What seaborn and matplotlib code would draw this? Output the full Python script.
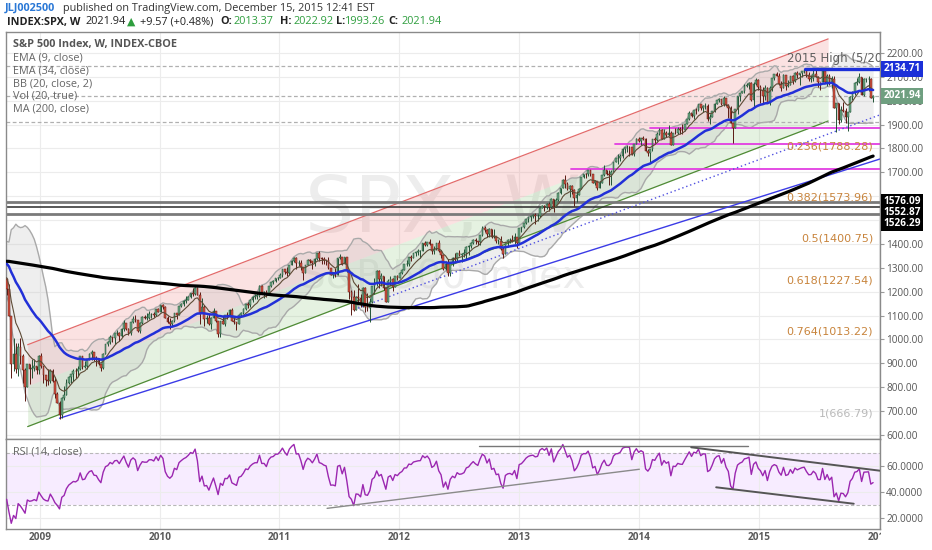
import numpy as np
import pandas as pd
import matplotlib
matplotlib.use("Agg")
import matplotlib.pyplot as plt
import matplotlib.dates as mdates
import matplotlib.transforms as mtrans
from matplotlib.ticker import FixedLocator, FuncFormatter
from matplotlib.patches import Rectangle
import seaborn as sns

# ---------------- DATA ----------------
# weekly closes before the visible window (indicator warm-up, Nov 2004 - Sep 2008)
pre_closes = [
    1170, 1182, 1191, 1189, 1194, 1210, 1212,
    1186, 1184, 1168, 1171, 1204, 1206, 1201, 1212, 1222, 1201, 1190, 1172, 1172, 1182, 1143, 1153, 1157,
    1172, 1154, 1190, 1198, 1197, 1201, 1217, 1191, 1211, 1212, 1228, 1229, 1234, 1227, 1231, 1220, 1205,
    1235, 1241, 1237, 1215, 1229, 1196, 1187, 1179, 1199, 1220, 1235, 1248, 1268, 1265, 1260, 1267, 1268, 1248,
    1285, 1287, 1261, 1284, 1264, 1266, 1289, 1289, 1287, 1282, 1307, 1302, 1295, 1295, 1289, 1312, 1311,
    1326, 1292, 1267, 1280, 1288, 1253, 1252, 1245, 1270, 1266, 1237, 1240, 1279, 1279, 1266, 1302, 1296,
    1311, 1299, 1320, 1314, 1336, 1350, 1366, 1368, 1377, 1364, 1380, 1401, 1401, 1397, 1409, 1427, 1410, 1418,
    1409, 1431, 1431, 1423, 1449, 1438, 1455, 1451, 1388, 1402, 1386, 1437, 1421, 1443, 1452, 1484, 1494,
    1505, 1505, 1522, 1515, 1536, 1507, 1533, 1502, 1503, 1530, 1552, 1534, 1458, 1433, 1453, 1445, 1479,
    1474, 1453, 1484, 1525, 1527, 1557, 1561, 1501, 1535, 1509, 1453, 1458, 1440, 1481, 1504, 1468, 1484, 1478,
    1411, 1401, 1325, 1330, 1395, 1331, 1349, 1353, 1331, 1294, 1288, 1330, 1316, 1370, 1332, 1390, 1398,
    1414, 1388, 1426, 1375, 1400, 1361, 1360, 1318, 1278, 1262, 1240, 1261, 1257, 1260, 1297, 1298, 1292,
    1283, 1242, 1252, 1255,
]

# visible weekly bars (close, high, low), week starting 2008-09-22
w2008 = [(1213.27, 1256, 1188), (1099.23, 1234, 1097), (899.22, 1099, 839), (940.55, 1006, 866),
         (876.77, 985, 858), (968.75, 984, 845), (930.99, 1007, 899), (873.29, 939, 818),
         (800.03, 882, 741), (896.24, 897, 799), (876.07, 897, 815), (879.73, 918, 837),
         (887.88, 918, 869), (872.80, 888, 857)]
w2009 = [(931.80, 934, 857), (890.35, 943, 881), (850.12, 870, 817), (831.95, 852, 804), (825.88, 877, 811),
         (868.60, 875, 817), (826.84, 877, 821), (770.05, 841, 754), (735.09, 780, 734), (683.38, 741, 667),
         (756.55, 759, 672), (768.54, 804, 747), (815.94, 833, 768), (842.50, 845, 814), (856.56, 857, 816),
         (869.60, 875, 827), (866.23, 879, 839), (877.52, 888, 847), (929.23, 930, 870), (882.88, 924, 878),
         (887.00, 909, 879), (919.14, 920, 878), (940.09, 945, 914), (946.21, 956, 916), (921.23, 946, 911),
         (918.90, 931, 889), (896.42, 923, 891), (879.13, 893, 869), (940.38, 942, 876), (979.26, 982, 940),
         (987.48, 993, 974), (1010.48, 1018, 980), (1004.09, 1012, 988), (1026.13, 1028, 980), (1028.93, 1039, 1018),
         (1016.40, 1033, 992), (1042.73, 1049, 1010), (1068.30, 1080, 1037), (1044.38, 1071, 1041), (1025.21, 1050, 1020),
         (1071.49, 1072, 1019), (1087.68, 1097, 1067), (1079.60, 1101, 1074), (1036.19, 1083, 1030), (1069.30, 1072, 1029),
         (1093.48, 1097, 1064), (1091.38, 1102, 1084), (1091.49, 1111, 1083), (1105.98, 1119, 1087), (1106.41, 1110, 1091),
         (1102.47, 1117, 1095), (1126.48, 1127, 1099), (1115.10, 1130, 1114)]
w2010 = [(1144.98, 1145, 1114), (1136.03, 1150, 1127), (1091.76, 1140, 1090), (1073.87, 1097, 1071), (1066.19, 1090, 1045),
         (1075.51, 1081, 1057), (1109.17, 1110, 1074), (1104.49, 1112, 1087), (1138.70, 1139, 1104), (1149.99, 1151, 1138),
         (1159.90, 1167, 1142), (1166.59, 1181, 1154), (1178.10, 1181, 1165), (1194.37, 1195, 1175), (1192.13, 1214, 1180),
         (1217.28, 1218, 1186), (1186.69, 1220, 1185), (1110.88, 1200, 1065), (1135.68, 1174, 1111), (1087.69, 1143, 1056),
         (1089.41, 1104, 1070), (1064.88, 1106, 1060), (1091.60, 1093, 1043), (1117.51, 1131, 1091), (1076.76, 1120, 1075),
         (1022.58, 1079, 1011), (1077.96, 1078, 1010), (1064.88, 1100, 1063), (1102.66, 1103, 1056), (1101.60, 1113, 1085),
         (1121.64, 1129, 1100), (1079.25, 1130, 1079), (1071.69, 1094, 1065), (1064.59, 1071, 1039), (1104.51, 1106, 1065),
         (1109.55, 1114, 1092), (1125.59, 1131, 1105), (1148.67, 1149, 1122), (1146.24, 1158, 1131), (1165.15, 1168, 1134),
         (1176.19, 1181, 1155), (1183.08, 1189, 1171), (1183.26, 1196, 1171), (1225.85, 1227, 1177), (1199.21, 1227, 1194),
         (1199.73, 1205, 1173), (1189.40, 1207, 1176), (1224.71, 1225, 1186), (1240.40, 1241, 1219), (1243.91, 1247, 1232),
         (1256.77, 1259, 1240), (1257.64, 1262, 1251)]
w2011 = [(1271.50, 1278, 1257), (1293.24, 1296, 1262), (1283.35, 1296, 1276), (1276.34, 1302, 1265), (1310.87, 1311, 1270),
         (1329.15, 1331, 1311), (1343.01, 1344, 1326), (1319.88, 1344, 1295), (1321.15, 1333, 1306), (1304.28, 1331, 1291),
         (1279.20, 1304, 1249), (1313.80, 1314, 1279), (1332.41, 1337, 1313), (1328.17, 1339, 1322), (1319.68, 1330, 1294),
         (1337.38, 1341, 1309), (1363.61, 1364, 1334), (1340.20, 1371, 1330), (1337.77, 1346, 1318), (1333.27, 1346, 1317),
         (1331.10, 1334, 1312), (1300.16, 1345, 1297), (1270.98, 1301, 1268), (1271.50, 1280, 1259), (1268.45, 1299, 1262),
         (1339.67, 1341, 1268), (1343.80, 1356, 1335), (1316.14, 1345, 1313), (1345.02, 1347, 1319), (1292.28, 1347, 1283),
         (1199.38, 1292, 1168), (1178.81, 1209, 1101), (1123.53, 1208, 1121), (1176.80, 1182, 1122), (1173.97, 1231, 1158),
         (1154.23, 1189, 1136), (1216.01, 1220, 1137), (1136.43, 1220, 1114), (1131.42, 1195, 1121), (1155.46, 1172, 1074),
         (1224.58, 1225, 1151), (1238.25, 1256, 1191), (1285.09, 1293, 1226), (1253.23, 1292, 1215), (1263.85, 1277, 1226),
         (1215.65, 1266, 1209), (1158.67, 1220, 1158), (1244.28, 1255, 1159), (1255.19, 1267, 1226), (1219.66, 1258, 1203),
         (1265.33, 1266, 1220), (1257.60, 1270, 1248)]
w2012 = [(1277.81, 1284, 1258), (1289.09, 1297, 1275), (1315.38, 1316, 1291), (1316.33, 1333, 1306), (1344.90, 1345, 1309),
         (1342.64, 1354, 1330), (1361.23, 1364, 1340), (1365.74, 1368, 1351), (1369.63, 1378, 1352), (1370.87, 1375, 1340),
         (1404.17, 1405, 1371), (1397.11, 1414, 1392), (1408.47, 1409, 1391), (1398.08, 1422, 1397), (1370.26, 1398, 1357),
         (1378.53, 1391, 1358), (1403.36, 1406, 1375), (1369.10, 1415, 1367), (1353.39, 1375, 1343), (1295.22, 1355, 1292),
         (1317.82, 1328, 1292), (1278.04, 1335, 1267), (1325.66, 1326, 1266), (1342.84, 1344, 1307), (1335.02, 1363, 1325),
         (1362.16, 1363, 1325), (1354.68, 1375, 1350), (1356.78, 1361, 1326), (1362.66, 1380, 1345), (1385.97, 1390, 1338),
         (1390.99, 1394, 1354), (1405.87, 1407, 1385), (1418.16, 1419, 1398), (1411.13, 1427, 1398), (1406.58, 1414, 1397),
         (1437.92, 1439, 1397), (1465.77, 1475, 1433), (1460.15, 1475, 1452), (1440.67, 1463, 1431), (1460.93, 1465, 1430),
         (1428.59, 1464, 1425), (1433.19, 1464, 1425), (1411.94, 1433, 1403), (1414.20, 1420, 1399), (1379.85, 1434, 1373),
         (1359.88, 1388, 1343), (1409.15, 1410, 1359), (1416.18, 1420, 1386), (1418.07, 1423, 1404), (1413.58, 1439, 1408),
         (1430.15, 1448, 1398), (1402.43, 1431, 1385)]
w2013 = [(1466.47, 1467, 1402), (1472.05, 1473, 1451), (1485.98, 1486, 1465), (1502.96, 1503, 1485), (1513.17, 1514, 1491),
         (1517.93, 1519, 1498), (1519.79, 1525, 1508), (1515.60, 1530, 1485), (1518.20, 1526, 1497), (1551.18, 1552, 1512),
         (1560.70, 1564, 1550), (1556.89, 1564, 1539), (1569.19, 1570, 1546), (1553.28, 1574, 1539), (1588.85, 1594, 1549),
         (1555.25, 1589, 1536), (1582.24, 1593, 1555), (1614.42, 1618, 1581), (1633.70, 1635, 1611), (1667.47, 1674, 1634),
         (1649.60, 1687, 1635), (1630.74, 1658, 1626), (1643.38, 1649, 1598), (1626.73, 1649, 1608), (1592.43, 1631, 1561),
         (1606.28, 1621, 1577), (1631.89, 1633, 1604), (1680.19, 1682, 1629), (1692.09, 1694, 1675), (1691.65, 1698, 1678),
         (1709.67, 1711, 1683), (1691.42, 1710, 1683), (1655.83, 1691, 1654), (1663.50, 1670, 1646), (1632.97, 1665, 1627),
         (1655.17, 1664, 1634), (1687.99, 1689, 1656), (1709.91, 1730, 1685), (1691.75, 1711, 1687), (1690.50, 1710, 1647),
         (1703.20, 1711, 1646), (1744.50, 1745, 1701), (1759.77, 1760, 1742), (1761.64, 1775, 1735), (1770.61, 1775, 1746),
         (1798.18, 1802, 1762), (1804.76, 1807, 1783), (1805.81, 1813, 1786), (1805.09, 1811, 1770), (1775.32, 1808, 1772),
         (1818.32, 1819, 1768), (1841.40, 1845, 1817)]
w2014 = [(1831.37, 1849, 1828), (1842.37, 1843, 1815), (1838.70, 1851, 1834), (1790.29, 1843, 1790), (1782.59, 1799, 1770),
         (1797.02, 1798, 1738), (1838.63, 1840, 1791), (1836.25, 1847, 1824), (1859.45, 1867, 1832), (1878.04, 1884, 1856),
         (1841.13, 1883, 1839), (1866.52, 1883, 1839), (1857.62, 1875, 1850), (1865.09, 1897, 1853), (1815.69, 1873, 1814),
         (1864.85, 1865, 1814), (1863.40, 1884, 1860), (1881.14, 1891, 1860), (1878.48, 1888, 1860), (1877.86, 1902, 1862),
         (1900.53, 1901, 1873), (1923.57, 1924, 1901), (1949.44, 1955, 1919), (1936.16, 1950, 1931), (1962.87, 1963, 1925),
         (1960.96, 1968, 1944), (1985.44, 1986, 1958), (1967.57, 1983, 1960), (1978.22, 1984, 1952), (1978.34, 1991, 1965),
         (1925.15, 1985, 1916), (1931.59, 1944, 1904), (1955.06, 1956, 1930), (1988.40, 1989, 1954), (2003.37, 2005, 1989),
         (2007.71, 2011, 1993), (1985.54, 2009, 1983), (2010.40, 2019, 1978), (1982.85, 2007, 1979), (1967.90, 1986, 1926),
         (1906.13, 1977, 1905), (1886.76, 1906, 1821), (1964.58, 1965, 1886), (2018.05, 2019, 1943), (2031.92, 2034, 2001),
         (2039.82, 2042, 2031), (2063.50, 2071, 2034), (2067.56, 2076, 2058), (2075.37, 2079, 2050), (2002.33, 2078, 2001),
         (2070.65, 2077, 1973), (2088.77, 2094, 2066)]
w2015 = [(2058.20, 2093, 2046), (2044.81, 2064, 1992), (2019.42, 2057, 1988), (2051.82, 2065, 2005), (1994.99, 2057, 1990),
         (2055.47, 2062, 1981), (2096.99, 2097, 2041), (2110.30, 2111, 2085), (2104.50, 2119, 2103), (2071.26, 2117, 2067),
         (2053.40, 2083, 2039), (2108.10, 2114, 2054), (2061.02, 2105, 2045), (2066.96, 2089, 2058), (2102.06, 2103, 2068),
         (2081.18, 2107, 2072), (2117.69, 2120, 2079), (2108.29, 2126, 2097), (2116.10, 2117, 2068), (2122.73, 2123, 2100),
         (2126.06, 2134.7, 2117), (2107.39, 2126, 2100), (2092.83, 2121, 2081), (2094.11, 2109, 2077), (2109.99, 2127, 2084),
         (2101.49, 2129, 2100), (2076.78, 2103, 2056), (2076.62, 2078, 2044), (2126.64, 2132, 2077), (2079.65, 2129, 2076),
         (2103.84, 2114, 2063), (2077.57, 2113, 2067), (2091.54, 2104, 2052), (1970.89, 2102, 1970), (1988.87, 1990, 1867),
         (1921.22, 1987, 1903), (1961.05, 1976, 1910), (1958.03, 1996, 1954), (1931.34, 1970, 1908), (1951.36, 1952, 1872),
         (2014.89, 2020, 1953), (2033.11, 2039, 2004), (2075.15, 2080, 2022), (2079.36, 2094, 2067), (2099.20, 2116, 2076),
         (2023.04, 2094, 2022), (2089.17, 2097, 2020), (2090.11, 2094, 2078), (2091.69, 2104, 2042), (2012.37, 2094, 2011),
         (2021.94, 2022.92, 1993.26)]

first_week = "2008-09-22"
fib_levels = [1788.28, 1573.96, 1400.75, 1227.54, 1013.22, 666.79]
fib_labels = ["0.236(1788.28)", "0.382(1573.96)", "0.5(1400.75)", "0.618(1227.54)", "0.764(1013.22)", "1(666.79)"]
black_levels = [1576.09, 1552.87, 1526.29]
magenta_levels = [1887, 1818, 1714]
magenta_starts = ["2014-02-01", "2013-10-20", "2013-06-07"]
dashed_levels = [2147, 2021.94, 1912]
high_2015 = 2134.71
last_price = 2021.94
year_ticks = ["2009", "2010", "2011", "2012", "2013", "2014", "2015", "2016"]
price_ticks = list(range(600, 2201, 100))
hidden_price_labels = [1500, 1600]   # covered by the price tags in the reference
rsi_ticks = [20, 40, 60]

# drawn trend lines (start date, start value, end date, end value)
channel_dates = ["2008-11-25", "2015-07-30"]
channel_upper = [978, 2259]
channel_lower = [635, 1915]
blue_line = ("2009-03-02", 670, "2016-01-04", 1756)
dotted_line = ("2011-08-16", 1125, "2016-01-04", 1941)
rsi_lines = [("2011-05-26", 27.6, "2014-01-01", 57.3, "#8a8a8a", 1.0),
             ("2012-08-31", 75.0, "2014-11-27", 75.0, "#777777", 1.0),
             ("2014-06-08", 74.0, "2016-01-04", 56.2, "#555555", 1.4),
             ("2014-08-23", 43.6, "2015-10-16", 31.1, "#555555", 1.4)]

# ---------------- PREP ----------------
weeks = w2008 + w2009 + w2010 + w2011 + w2012 + w2013 + w2014 + w2015
n = len(weeks)
closes = np.array([w[0] for w in weeks], float)
full = pd.Series(np.concatenate([np.array(pre_closes, float), closes]))
opens = full.shift(1).values[-n:]
highs = np.maximum.reduce([np.array([w[1] for w in weeks], float), opens, closes])
lows = np.minimum.reduce([np.array([w[2] for w in weeks], float), opens, closes])
dates = pd.date_range(first_week, periods=n, freq="7D")

ema9 = full.ewm(span=9, adjust=False).mean().values[-n:]
ema34 = full.ewm(span=34, adjust=False).mean().values[-n:]
sma20 = full.rolling(20).mean()
sd20 = full.rolling(20).std(ddof=0)
bbu = (sma20 + 2 * sd20).values[-n:]
bbl = (sma20 - 2 * sd20).values[-n:]
ma200 = full.rolling(200, min_periods=150).mean().values[-n:]
diff = full.diff()
ag = diff.clip(lower=0).ewm(alpha=1 / 14, adjust=False).mean()
al = (-diff.clip(upper=0)).ewm(alpha=1 / 14, adjust=False).mean()
rsi = (100 - 100 / (1 + ag / al)).values[-n:]

# ---------------- FIGURE ----------------
sns.set_style("white")
plt.rcParams["font.family"] = ["Open Sans", "DejaVu Sans"]
W, H = 932, 550
fig = plt.figure(figsize=(W / 100, H / 100), dpi=100)
fig.patch.set_facecolor("white")


def fx(px):
    return px / W


def fy(py):
    return 1 - py / H


L, R, T, MID, B = 6, 880, 32, 439, 529
ax = fig.add_axes([fx(L), fy(MID), fx(R - L), (MID - T) / H])
axr = fig.add_axes([fx(L), fy(B), fx(R - L), (B - MID) / H], sharex=ax)

x0, x1 = pd.Timestamp("2008-09-20"), pd.Timestamp("2016-01-04")
ax.set_xlim(x0, x1)
ax.set_ylim(583, 2288)
axr.set_ylim(11.9, 80.3)

grid_c = "#ececec"
for a in (ax, axr):
    a.set_facecolor("white")
    for s in a.spines.values():
        s.set_color("#8a8a8a")
        s.set_linewidth(1.0)
    a.xaxis.set_major_locator(FixedLocator(mdates.date2num(pd.to_datetime([y + "-01-01" for y in year_ticks]))))
    a.yaxis.tick_right()
    a.tick_params(axis="y", which="both", length=3, width=0.8, color="#9a9a9a", labelsize=7.2,
                  labelcolor="#555555", pad=1.5)
    a.tick_params(axis="x", length=0)
    a.grid(True, color=grid_c, linewidth=0.8, zorder=0)
    a.set_axisbelow(True)

ax.yaxis.set_major_locator(FixedLocator(price_ticks))
ax.yaxis.set_major_formatter(FuncFormatter(lambda v, p: "" if round(v) in hidden_price_labels else f"{v:.2f}"))
ax.tick_params(axis="x", labelbottom=False)
axr.yaxis.set_major_locator(FixedLocator(rsi_ticks))
axr.yaxis.set_major_formatter(FuncFormatter(lambda v, p: f"{v:.4f}"))
axr.tick_params(axis="x", labelbottom=False)

# year labels under RSI
yt = mtrans.blended_transform_factory(axr.transData, fig.transFigure)
for y in year_ticks:
    axr.text(pd.Timestamp(y + "-01-01"), fy(537), y, transform=yt, ha="center", va="center",
             fontsize=7.2, fontweight="bold", color="#5a5a5a", clip_on=False)
fig.patches.append(Rectangle((fx(881), fy(546)), fx(W - 881), 14 / H, transform=fig.transFigure,
                             facecolor="white", edgecolor="none", zorder=20))

# watermark
ax.text(0.5, (MID - 210) / (MID - T), "SPX, W", transform=ax.transAxes, ha="center", va="center",
        fontsize=56, color="black", alpha=0.07, family="DejaVu Sans", zorder=0.5)
ax.text(0.5, (MID - 277) / (MID - T), "S&P 500 Index", transform=ax.transAxes, ha="center", va="center",
        fontsize=28, color="black", alpha=0.07, family="DejaVu Sans", zorder=0.5)

# regression channel
cd = pd.to_datetime(channel_dates)
cmid = [(a + b) / 2 for a, b in zip(channel_upper, channel_lower)]
ax.fill_between(cd, cmid, channel_upper, color="#ee7b7b", alpha=0.22, lw=0, zorder=1)
ax.fill_between(cd, channel_lower, cmid, color="#8cc47a", alpha=0.22, lw=0, zorder=1)
ax.plot(cd, channel_upper, color="#e36b6b", lw=0.9, zorder=2)
ax.plot(cd, channel_lower, color="#4f8a35", lw=0.9, zorder=2)

# Bollinger bands
ax.fill_between(dates, bbl, bbu, color="#bdbdbd", alpha=0.25, lw=0, zorder=1.5)
sns.lineplot(x=dates, y=bbu, ax=ax, color="#a9a9a9", linewidth=1.0, zorder=1.6, legend=False)
sns.lineplot(x=dates, y=bbl, ax=ax, color="#a9a9a9", linewidth=1.0, zorder=1.6, legend=False)

# horizontal levels
for lv in dashed_levels:
    ax.axhline(lv, color="#b0b0b0", lw=0.9, ls=(0, (3, 2)), zorder=2)
for lv, c, w in zip(black_levels, ["#7a7a7a", "#2a2a2a", "#7a7a7a"], [2.0, 1.1, 2.0]):
    ax.axhline(lv, color=c, lw=w, zorder=2.2)
for lv, st in zip(magenta_levels, magenta_starts):
    ax.plot([pd.Timestamp(st), x1], [lv, lv], color="#e23ee2", lw=1.3, zorder=2.3)
ax.plot([pd.Timestamp("2015-05-20"), x1], [high_2015, high_2015], color="#1b2fd8", lw=2.4, zorder=5)

# trend lines
ax.plot(pd.to_datetime([blue_line[0], blue_line[2]]), [blue_line[1], blue_line[3]], color="#3b3be6", lw=1.0, zorder=2.5)
ax.plot(pd.to_datetime([dotted_line[0], dotted_line[2]]), [dotted_line[1], dotted_line[3]], color="#5050e0",
        lw=1.0, ls=(0, (1, 2)), zorder=2.5)

# candles
up = closes >= opens
body_lo = np.minimum(opens, closes)
body_h = np.maximum(np.abs(closes - opens), 1.5)
for mask, fc, ec in [(up, "#6ba583", "#225437"), (~up, "#d75442", "#5b1a13")]:
    ax.vlines(dates[mask], lows[mask], highs[mask], color=ec, lw=0.7, zorder=3)
    ax.bar(dates[mask], body_h[mask], bottom=body_lo[mask], width=5.2, color=fc, edgecolor=ec,
           linewidth=0.35, zorder=3.1)

# moving averages
sns.lineplot(x=dates, y=ema9, ax=ax, color="#5d4b36", linewidth=0.8, zorder=4, legend=False)
sns.lineplot(x=dates, y=ema34, ax=ax, color="#2230d8", linewidth=1.8, zorder=4.1, legend=False)
sns.lineplot(x=dates, y=ma200, ax=ax, color="#000000", linewidth=2.3, zorder=4.2, legend=False)

# fib labels
bt = mtrans.blended_transform_factory(ax.transAxes, ax.transData)
for lv, lab in zip(fib_levels, fib_labels):
    col = "#b9b9b9" if lab.startswith("1(") else "#c8843c"
    ax.text((873 - L) / (R - L), lv, lab, transform=bt, ha="right", va="bottom", fontsize=8,
            color=col, family="DejaVu Sans", zorder=6)

ax.text((787 - L) / (R - L), 2148, "2015 High (5/20/15)", transform=bt, ha="left", va="bottom",
        fontsize=8.5, color="#5f5f5f", family="DejaVu Sans", zorder=6, clip_on=True)


# price tags on the axis
def tag(a, y, txt, fc, tc="white"):
    a.text(1.004, y, txt, transform=mtrans.blended_transform_factory(a.transAxes, a.transData),
           ha="left", va="center", fontsize=7.2, color=tc, fontweight="bold", clip_on=False, zorder=10,
           bbox=dict(boxstyle="square,pad=0.25", fc=fc, ec="none"))


tag(ax, high_2015, "2134.71", "#1b2fd8")
tag(ax, last_price, "2021.94", "#6f9f80")
for i, lv in enumerate(black_levels):
    tag(ax, 1577 - i * 45, f"{lv:.2f}", "#000000")


# indicator legend (top-left)
def ptext(px, py, s, **kw):
    ax.text((px - L) / (R - L), (MID - py) / (MID - T), s, transform=ax.transAxes, ha="left",
            va="center", zorder=7, **kw)


ptext(13, 45, "S&P 500 Index, W, INDEX-CBOE", fontsize=7.8, fontweight="bold", color="#555555")
for py, s in zip([58, 71, 83.5, 96, 109],
                 ["EMA (9, close)", "EMA (34, close)", "BB (20, close, 2)", "Vol (20, true)", "MA (200, close)"]):
    ptext(13, py, s, fontsize=7.8, color="#666666")

# RSI panel
axr.axhspan(30, 70, color="#9915ff", alpha=0.08, lw=0, zorder=0.5)
for lv in (30, 70):
    axr.axhline(lv, color="#b8b8b8", lw=0.8, ls=(0, (3, 2)), zorder=1)
sns.lineplot(x=dates, y=rsi, ax=axr, color="#9b27b0", linewidth=1.0, zorder=3, legend=False)
for d0, v0, d1, v1, c, w in rsi_lines:
    axr.plot(pd.to_datetime([d0, d1]), [v0, v1], color=c, lw=w, zorder=4)
axr.text((13 - L) / (R - L), (B - 452) / (B - MID), "RSI (14, close)", transform=axr.transAxes,
         ha="left", va="center", fontsize=7.8, color="#666666", zorder=7)
axr.set_xlim(x0, x1)
ax.set_xlim(x0, x1)
for a in (ax, axr):
    a.set_xlabel("")
    a.set_ylabel("")

# header
fs = 7.8
fig.text(fx(5), fy(8), "JLJ002500", color="#2a78d6", fontsize=fs, va="center", ha="left", fontweight="bold")
fig.text(fx(63), fy(8), "published on TradingView.com, December 15, 2015 12:41 EST", color="#333333",
         fontsize=fs, va="center", ha="left")
green = "#2e9e3e"
for px, s, c, bold in [(7, "INDEX:SPX, W", "#222222", True), (86, "2021.94", "#222222", False),
                       (127, "\u25b2", green, False), (140, "+9.57 (+0.48%)", "#222222", False),
                       (220, "O:", "#222222", True), (233, "2013.37", green, False),
                       (280, "H:", "#222222", True), (293, "2022.92", green, False),
                       (336, "L:", "#222222", True), (345, "1993.26", green, False),
                       (388, "C:", "#222222", True), (402, "2021.94", green, False)]:
    fig.text(fx(px), fy(22), s, color=c, fontsize=fs, va="center", ha="left",
             fontweight="bold" if bold else "normal")

fig.savefig("out.png", dpi=100)
